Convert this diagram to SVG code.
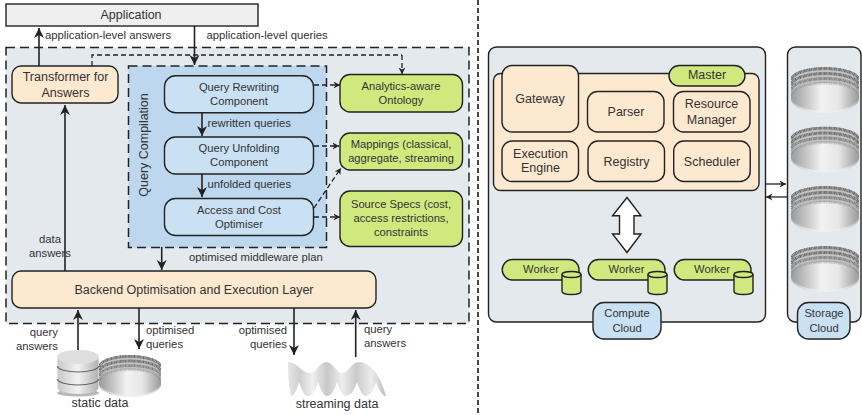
<svg xmlns="http://www.w3.org/2000/svg" width="862" height="415" viewBox="0 0 862 415">
<style>
text{font-family:"Liberation Sans",Arial,sans-serif;fill:#333;font-size:12.5px}
.c{text-anchor:middle}
.s{font-size:11.2px}
.l{font-size:11.3px}
.e{text-anchor:end}
.n{stroke:#222;stroke-width:1.4}
.peach{fill:#fde8d0}
.green{fill:#d0e97f}
.blue{fill:#c9e1f3}
.a{fill:none;stroke:#222;stroke-width:1.6;marker-end:url(#ah)}
.d{fill:none;stroke:#222;stroke-width:1.3;stroke-dasharray:5 3;marker-end:url(#dh)}
.bits{fill:none;stroke:#6a6a6a;stroke-width:3;stroke-dasharray:1 .5 1.6 .5 .8 .6}
</style>
<defs>
<marker id="ah" markerUnits="userSpaceOnUse" markerWidth="10" markerHeight="12" refX="10" refY="5" orient="auto"><path d="M0,0L10,5L0,10L3,5Z" fill="#222"/></marker>
<marker id="dh" markerUnits="userSpaceOnUse" markerWidth="7" markerHeight="8" refX="6.5" refY="3.5" orient="auto"><path d="M0,0L6.5,3.5L0,7L2,3.5Z" fill="#222"/></marker>
<linearGradient id="wall"><stop offset="0" stop-color="#9a9a9a"/><stop offset=".45" stop-color="#f2f2f2"/><stop offset=".7" stop-color="#e6e6e6"/><stop offset="1" stop-color="#999"/></linearGradient>
<linearGradient id="fade" x1="0" y1="0" x2="0" y2="1"><stop offset="0" stop-color="#e4e9ee" stop-opacity="0"/><stop offset="1" stop-color="#eef0f2" stop-opacity=".85"/></linearGradient>
<linearGradient id="disc"><stop offset="0" stop-color="#c8c8c8"/><stop offset=".5" stop-color="#f2f2f2"/><stop offset="1" stop-color="#b0b0b0"/></linearGradient>
<linearGradient id="wave"><stop offset="0" stop-color="#e6e6e6"/><stop offset=".12" stop-color="#cfcfcf"/><stop offset=".25" stop-color="#efefef"/><stop offset=".4" stop-color="#c8c8c8"/><stop offset=".55" stop-color="#ededed"/><stop offset=".7" stop-color="#cacaca"/><stop offset=".85" stop-color="#ececec"/><stop offset="1" stop-color="#bdbdbd"/></linearGradient>
<symbol id="bin" viewBox="0 0 68 46" width="68" height="46">
<path d="M0,12A34,12 0 0 1 68,12L68,32A34,14 0 0 1 0,32Z" fill="url(#wall)"/>
<path d="M0,12A34,12 0 0 1 68,32A34,14 0 0 1 0,32Z" fill="url(#fade)" opacity="0"/>
<path d="M0,30A34,14 0 0 0 68,30L68,32A34,14 0 0 1 0,32Z" fill="url(#fade)"/>
<path d="M0,12A34,12 0 0 1 68,12L68,28A34,12 0 0 0 0,28Z" fill="#c2c2c2"/>
<path class="bits" d="M.5,13A33.500,11.500 0 0 1 67.500,13"/>
<path class="bits" d="M.5,18A33.500,11.500 0 0 1 67.500,18"/>
<path class="bits" d="M.5,23A33.500,11.500 0 0 1 67.500,23" opacity=".75"/>
<path class="bits" d="M.5,27.500A33.500,11.500 0 0 1 67.500,27.500" opacity=".3"/>
</symbol>
</defs>

<rect x="6" y="47.500" width="463" height="276" fill="#e4e9ee" stroke="#222" stroke-width="1.500" stroke-dasharray="9 5"/>
<rect x="128.500" y="66" width="198" height="181.500" fill="#bdd8ee" stroke="#222" stroke-width="1.500" stroke-dasharray="9 5"/>
<line x1="478" y1="0" x2="478" y2="415" stroke="#444" stroke-width="2" stroke-dasharray="5 3"/>

<g id="connectors">
<path class="a" d="M39,66V28"/>
<path class="a" d="M194.500,26V65"/>
<path d="M92,66V55H402" fill="none" stroke="#222" stroke-width="1.300" stroke-dasharray="5 3"/>
<path class="d" d="M402,55V74"/>
<path class="a" d="M65,271V105"/>
<path class="a" d="M161.700,247V270"/>
<path class="a" d="M202,113V136"/>
<path class="a" d="M202,174V197"/>
<path class="d" d="M314,85H340"/>
<path class="d" d="M314,146H339"/>
<path class="d" d="M314,217H340"/>
<path class="d" d="M314,208L341,168"/>
<path class="a" d="M78,350V310"/>
<path class="a" d="M139,308V349"/>
<path class="a" d="M294,308V355"/>
<path class="a" d="M355.700,357V310"/>
<path d="M766,184H786" fill="none" stroke="#222" stroke-width="1.300" marker-end="url(#dh)"/>
<path d="M787,197H766" fill="none" stroke="#222" stroke-width="1.300" marker-end="url(#dh)"/>
</g>

<g id="application"><rect class="n" x="6" y="4" width="252" height="22" fill="#eef0ee"/><text class="c" x="131" y="19">Application</text></g>
<g id="transformer"><rect class="n peach" x="12" y="66" width="106" height="37" rx="9"/><text class="c" x="65.500" y="81">Transformer for</text><text class="c" x="65.500" y="97">Answers</text></g>
<text class="c" transform="translate(148 145) rotate(-90)">Query Compilation</text>
<g id="query-rewriting"><rect class="n blue" x="164.500" y="75.700" width="149" height="37" rx="11"/><text class="c s" x="239" y="90.700">Query Rewriting</text><text class="c s" x="239" y="104.700">Component</text></g>
<g id="query-unfolding"><rect class="n blue" x="164.500" y="137" width="149" height="37" rx="11"/><text class="c s" x="239" y="151.700">Query Unfolding</text><text class="c s" x="239" y="165.700">Component</text></g>
<g id="access-cost"><rect class="n blue" x="164.500" y="198.500" width="149" height="37" rx="11"/><text class="c s" x="239" y="213.700">Access and Cost</text><text class="c s" x="239" y="227.700">Optimiser</text></g>
<g id="ontology"><rect class="n green" x="340" y="74.500" width="122.500" height="37.500" rx="10"/><text class="c s" x="401" y="90">Analytics-aware</text><text class="c s" x="401" y="104">Ontology</text></g>
<g id="mappings"><rect class="n green" x="340" y="133" width="122.500" height="37" rx="10"/><text class="c s" x="401" y="147.700">Mappings (classical,</text><text class="c s" x="401" y="161.700">aggregate, streaming</text></g>
<g id="source-specs"><rect class="n green" x="340" y="191" width="122.500" height="55.500" rx="10"/><text class="c s" x="401" y="207.700">Source Specs (cost,</text><text class="c s" x="401" y="221.700">access restrictions,</text><text class="c s" x="401" y="235.700">constraints</text></g>
<g id="backend"><rect class="n peach" x="12" y="271" width="364" height="37" rx="9"/><text class="c" x="194" y="293.500">Backend Optimisation and Execution Layer</text></g>

<text class="l" x="45" y="39">application-level answers</text>
<text class="l" x="206.500" y="39">application-level queries</text>
<text class="l" x="207.500" y="127">rewritten queries</text>
<text class="l" x="207.500" y="188">unfolded queries</text>
<text class="l" x="189" y="261">optimised middleware plan</text>
<text class="l c" x="50" y="243">data</text><text class="l c" x="50" y="257">answers</text>
<text class="l e" x="58" y="336">query</text><text class="l e" x="58" y="350">answers</text>
<text class="l" x="146" y="334">optimised</text><text class="l" x="146" y="348">queries</text>
<text class="l e" x="287" y="334">optimised</text><text class="l e" x="287" y="348">queries</text>
<text class="l" x="364" y="333">query</text><text class="l" x="364" y="347">answers</text>

<g id="static-data">
<ellipse cx="78" cy="393" rx="21" ry="3.500" fill="#888" opacity=".6"/>
<path d="M57.500,357A20.500,7 0 0 1 98.500,357V388A20.500,6 0 0 1 57.500,388Z" fill="url(#disc)"/>
<ellipse cx="78" cy="357" rx="20.500" ry="7" fill="#dedede"/>
<path d="M57.500,366A20.500,6 0 0 0 98.500,366M57.500,379A20.500,6 0 0 0 98.500,379" fill="none" stroke="#666" stroke-width="1.200"/>
<use href="#bin" x="99" y="355" width="62" height="42"/>
<text class="c" x="100" y="407">static data</text>
</g>
<g id="streaming-data">
<path d="M288,362C296,361 302,373 310,373C317,373 319,362 326,362C334,362 336,373 342,373C349,373 351,362 359,362C368,362 380,372 386,396C382,396 378,388 376,382C374,390 370,396 366,396C362,396 359,388 357,382C355,390 350,396 346,396C342,396 339,388 337,382C335,390 331,396 327,396C323,396 320,388 318,382C316,390 312,396 308,396C304,396 301,388 299,382C297,390 294,396 291,396C289,390 288,375 288,362Z" fill="url(#wave)"/>
<text class="c" x="337" y="408">streaming data</text>
</g>

<g id="compute-cloud">
<rect class="n" x="488.500" y="47" width="277" height="275" rx="8" fill="#e4e9ee"/>
<rect class="n peach" x="493.500" y="73.500" width="265.500" height="117" rx="7"/>
</g>
<g id="gateway"><rect class="n peach" x="502" y="65.500" width="76.500" height="66.500" rx="10"/><text class="c" x="540" y="102.700">Gateway</text></g>
<g id="master"><rect class="n green" x="669" y="65.500" width="76" height="20.500" rx="10.250"/><text class="c" x="707" y="79.300">Master</text></g>
<g id="parser"><rect class="n peach" x="587.500" y="91.500" width="76.500" height="40.500" rx="10"/><text class="c" x="626" y="115.700">Parser</text></g>
<g id="resource-manager"><rect class="n peach" x="673.500" y="91.500" width="76.500" height="40.500" rx="10"/><text class="c" x="711.500" y="107.700">Resource</text><text class="c" x="711.500" y="123.700">Manager</text></g>
<g id="execution-engine"><rect class="n peach" x="502" y="141" width="76.500" height="40.500" rx="10"/><text class="c" x="540.500" y="157.700">Execution</text><text class="c" x="540.500" y="172.300">Engine</text></g>
<g id="registry"><rect class="n peach" x="588" y="141" width="76.500" height="40.500" rx="10"/><text class="c" x="626.500" y="165.700">Registry</text></g>
<g id="scheduler"><rect class="n peach" x="673.700" y="141" width="76.500" height="40.500" rx="10"/><text class="c" x="712" y="165.700">Scheduler</text></g>
<g id="double-arrow"><path d="M627,197.500L641,215.700H634V234H641L627,252.500L612.500,234H619.500V215.700H612.500Z" fill="#fff" stroke="#222" stroke-width="1.400"/></g>

<g id="worker-1"><path class="n green" d="M512.500,259.500H569A10,10 0 0 1 579,269.500V280H512.500A10.250,10.250 0 0 1 512.500,259.500Z"/><text class="c s" x="541" y="273">Worker</text>
<path class="n green" d="M562,274.500A9.500,3 0 0 1 581,274.500V291.500A9.500,3 0 0 1 562,291.500Z"/><path d="M562,274.500A9.500,3 0 0 0 581,274.500" fill="none" stroke="#222" stroke-width="1.400"/></g>
<g id="worker-2"><path class="n green" d="M598.500,259.500H655A10,10 0 0 1 665,269.500V280H598.500A10.250,10.250 0 0 1 598.500,259.500Z"/><text class="c s" x="626.500" y="273">Worker</text>
<path class="n green" d="M648,274.500A9.500,3 0 0 1 667,274.500V291.500A9.500,3 0 0 1 648,291.500Z"/><path d="M648,274.500A9.500,3 0 0 0 667,274.500" fill="none" stroke="#222" stroke-width="1.400"/></g>
<g id="worker-3"><path class="n green" d="M684.500,259.500H741A10,10 0 0 1 751,269.500V280H684.500A10.250,10.250 0 0 1 684.500,259.500Z"/><text class="c s" x="712" y="273">Worker</text>
<path class="n green" d="M734,274.500A9.500,3 0 0 1 753,274.500V291.500A9.500,3 0 0 1 734,291.500Z"/><path d="M734,274.500A9.500,3 0 0 0 753,274.500" fill="none" stroke="#222" stroke-width="1.400"/></g>
<g id="compute-label"><rect class="n blue" x="593" y="302.500" width="68" height="36.500" rx="11"/><text class="c s" x="627" y="317">Compute</text><text class="c s" x="627" y="331.700">Cloud</text></g>

<g id="storage-cloud">
<rect class="n" x="787.500" y="47" width="73.500" height="275" rx="8" fill="#e4e9ee"/>
<use href="#bin" x="791" y="67"/>
<use href="#bin" x="791" y="126.500"/>
<use href="#bin" x="791" y="186"/>
<use href="#bin" x="791" y="246"/>
</g>
<g id="storage-label"><rect class="n blue" x="797.500" y="302.500" width="52.500" height="36.500" rx="11"/><text class="c s" x="824" y="317">Storage</text><text class="c s" x="824" y="331.700">Cloud</text></g>
</svg>
